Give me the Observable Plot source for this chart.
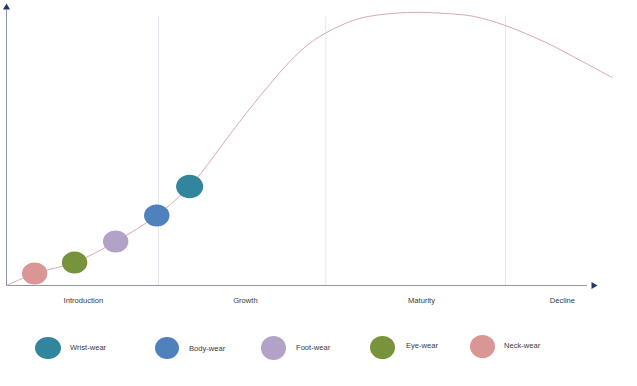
<!DOCTYPE html>
<html>
<head>
<meta charset="utf-8">
<script src="https://cdn.jsdelivr.net/npm/d3@7"></script>
<script src="https://cdn.jsdelivr.net/npm/@observablehq/plot@0.6"></script>
<style>
  html, body { margin: 0; padding: 0; background: #ffffff; }
  #wrap { width: 637px; font-family: "Liberation Sans", Arial, sans-serif; }
  #legend { position: relative; width: 637px; height: 66px; }
  .sw { position: absolute; border-radius: 50%; }
  .lb { position: absolute; font-size: 7.6px; color: #3a3a3a; line-height: 1; transform: translateY(-50%); white-space: nowrap; }
</style>
</head>
<body>
<div id="wrap"></div>
<script>
// Life-cycle curve (x = time, y = sales)
const curveX = [0, 4.8, 11.6, 18.6, 25.6, 31.2, 33.1, 38.2, 41.6, 45.0, 48.4, 52.3, 56.9, 60.8, 68.3, 75.1, 79.6, 85.0, 92.2, 97.8, 103.2];
const curveY = [0, 4.3, 8.3, 15.8, 25.2, 35.6, 40.3, 54.7, 64.0, 72.7, 80.9, 88.1, 93.5, 96.4, 98.2, 97.8, 96.8, 93.5, 87.1, 80.9, 74.8];

// Products sitting on the curve
const productNames = ["Neck-wear", "Eye-wear", "Foot-wear", "Body-wear", "Wrist-wear"];
const productX = [4.8, 11.6, 18.6, 25.6, 31.2];
const productY = [4.3, 8.3, 15.8, 25.2, 35.6];
const productColors = ["#d99694", "#77933c", "#b3a2c7", "#4f81bd", "#31859c"];

// Stage boundaries (gridlines) and stage labels
const stageBounds = [25.9, 54.4, 85.0];
const stageLabels = ["Introduction", "Growth", "Maturity", "Decline"];
const stageCenters = [13.1, 40.7, 70.7, 94.7];

// Legend order
const legendNames = ["Wrist-wear", "Body-wear", "Foot-wear", "Eye-wear", "Neck-wear"];

const curve = curveX.map((x, i) => ({x, y: curveY[i]}));
const products = productNames.map((name, i) => ({name, x: productX[i], y: productY[i], color: productColors[i]}));
const colorOf = Object.fromEntries(productNames.map((n, i) => [n, productColors[i]]));

const ellipse = {
  draw(ctx, size) {
    const r = Math.sqrt(size / Math.PI);
    const rx = r * 1.06, ry = r * 0.92, k = 0.5523;
    ctx.moveTo(rx, 0);
    ctx.bezierCurveTo(rx, k * ry, k * rx, ry, 0, ry);
    ctx.bezierCurveTo(-k * rx, ry, -rx, k * ry, -rx, 0);
    ctx.bezierCurveTo(-rx, -k * ry, -k * rx, -ry, 0, -ry);
    ctx.bezierCurveTo(k * rx, -ry, rx, -k * ry, rx, 0);
    ctx.closePath();
  }
};

const chart = Plot.plot({
  width: 637,
  height: 320,
  marginLeft: 6,
  marginRight: 44,
  marginTop: 7,
  marginBottom: 35,
  style: {fontFamily: "Liberation Sans, Arial, sans-serif", background: "#ffffff", color: "#3a3a3a"},
  x: {domain: [0, 100], axis: null},
  y: {domain: [0, 100], axis: null},
  r: {type: "identity"},
  marks: [
    Plot.ruleX(stageBounds, {y1: 0, y2: 97, stroke: "#e4e6ee", strokeWidth: 1}),
    Plot.ruleX([0], {y1: 0, y2: 99, stroke: "#8e97aa", strokeWidth: 1}),
    Plot.ruleY([0], {x1: 0, x2: 99, stroke: "#8e97aa", strokeWidth: 1}),
    Plot.dot([{x: 0, y: 100}], {x: "x", y: "y", symbol: "triangle", r: 2.6, fill: "#1f3864", stroke: "none"}),
    Plot.dot([{x: 100, y: 0}], {x: "x", y: "y", symbol: "triangle", r: 2.6, rotate: 90, fill: "#1f3864", stroke: "none"}),
    Plot.line(curve, {x: "x", y: "y", curve: "catmull-rom", stroke: "#d6aab0", strokeWidth: 1}),
    Plot.dot(products, {x: "x", y: "y", fill: "color", stroke: "none", symbol: ellipse,
      r: d => d.name === "Wrist-wear" ? 12.8 : 12}),
    Plot.axisX(stageCenters, {tickSize: 0, tickPadding: 12.5, tickFormat: (d, i) => stageLabels[i],
      fontSize: 7.6, fill: "#3a3a3a", anchor: "bottom", label: null})
  ]
});

const wrap = document.getElementById("wrap");
wrap.appendChild(chart);

// Legend below the chart
const legend = document.createElement("div");
legend.id = "legend";
const layout = [
  {cx: 48, cy: 28, w: 26, h: 22, tx: 70, ty: 28},
  {cx: 167, cy: 28, w: 24, h: 22, tx: 189, ty: 29},
  {cx: 273, cy: 28, w: 25, h: 24, tx: 296, ty: 28},
  {cx: 382, cy: 27, w: 25, h: 23, tx: 406, ty: 26},
  {cx: 482, cy: 26, w: 25, h: 23, tx: 504, ty: 25.5}
];
legendNames.forEach((name, i) => {
  const p = layout[i];
  const sw = document.createElement("div");
  sw.className = "sw";
  sw.style.left = (p.cx - p.w / 2) + "px";
  sw.style.top = (p.cy - p.h / 2) + "px";
  sw.style.width = p.w + "px";
  sw.style.height = p.h + "px";
  sw.style.background = colorOf[name];
  legend.appendChild(sw);
  const lb = document.createElement("div");
  lb.className = "lb";
  lb.style.left = p.tx + "px";
  lb.style.top = p.ty + "px";
  lb.textContent = name;
  legend.appendChild(lb);
});
wrap.appendChild(legend);
</script>
</body>
</html>
